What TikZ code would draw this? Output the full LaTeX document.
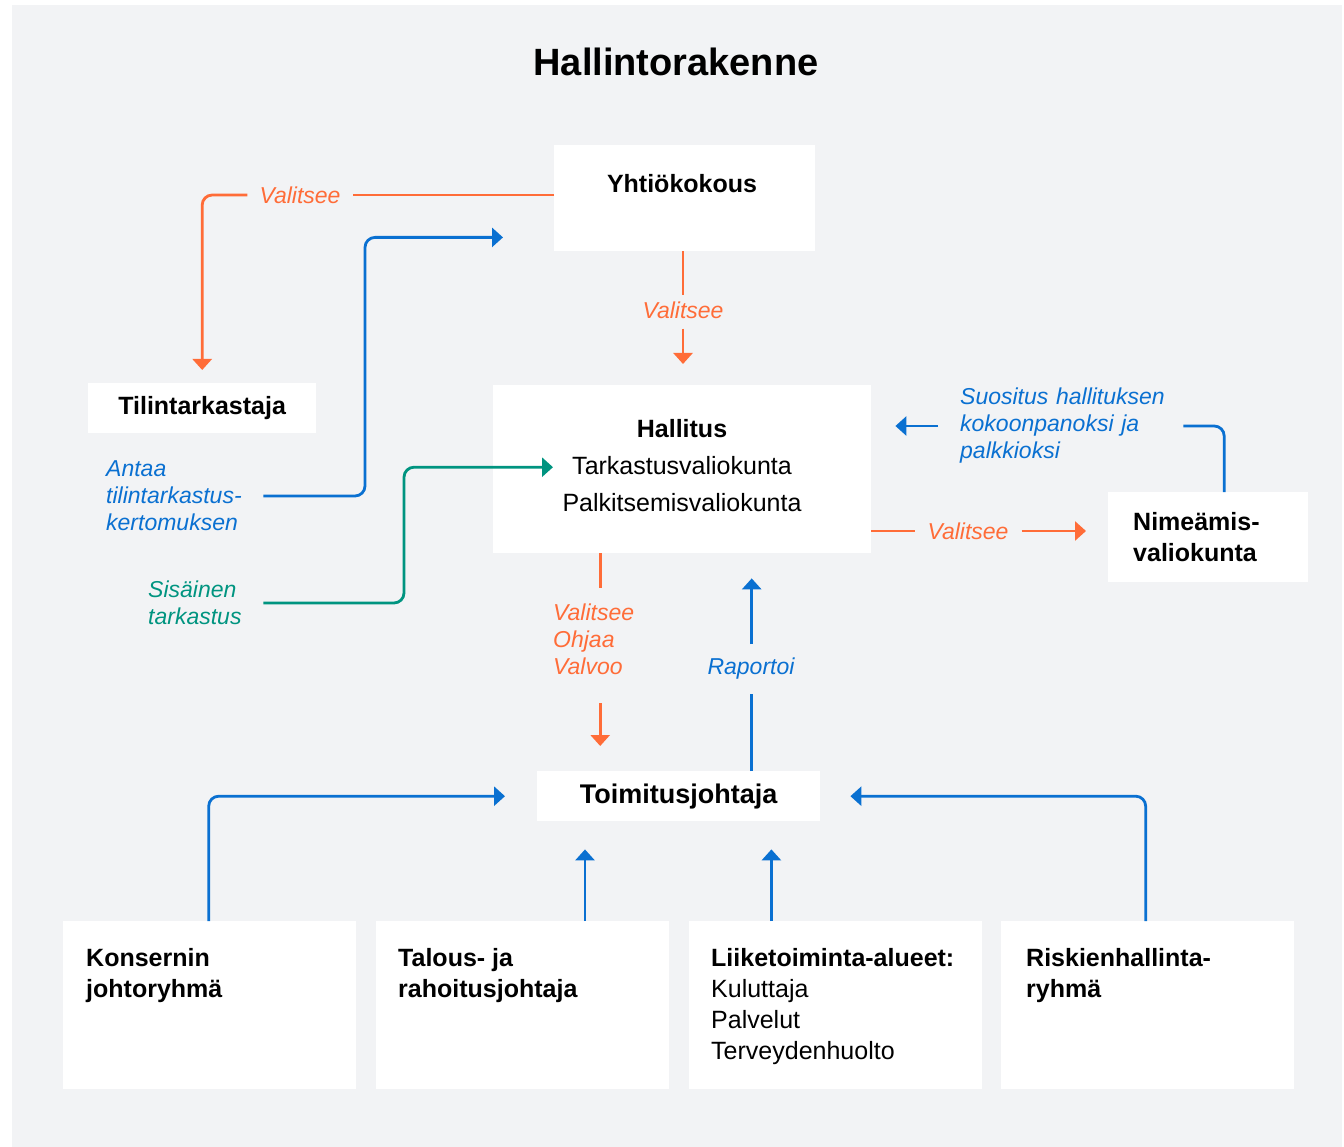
\documentclass[tikz,border=0pt]{standalone}
\usepackage{fontspec}
\setmainfont{Liberation Sans}
\usetikzlibrary{arrows.meta,calc}

\definecolor{pagegray}{RGB}{242,243,245}
\definecolor{orangeln}{RGB}{255,108,56}
\definecolor{blueln}{RGB}{10,112,209}
\definecolor{tealln}{RGB}{0,148,128}

\tikzset{
  box/.style={fill=white, inner sep=0pt, align=center,
    font=\fontsize{25}{31}\selectfont},
  boxtxt/.style={inner sep=0pt, align=left, font=\fontsize{25}{31}\selectfont},
  lab/.style={inner sep=0pt, align=left, font=\fontsize{23}{27}\selectfont\itshape},
  link/.style={line width=2.8pt, rounded corners=10pt},
  tip/.style={-{Triangle[length=11pt,width=19pt]}},
}

\begin{document}
\begin{tikzpicture}[x=1pt,y=-1pt]
  \useasboundingbox (0,0) rectangle (1344,1147);
  \fill[pagegray] (12,5) rectangle (1342,1147);

  \node[font=\fontsize{38}{44}\selectfont\bfseries] (title) at (676,62) {Hallintorakenne};

  % top part
  \node[box, minimum width=261pt, minimum height=106pt, anchor=north west] (yhtio) at (554,145) {};
  \node[boxtxt] (yhtioT) at (682,184) {\textbf{Yhtiökokous}};
  \node[box, minimum width=228pt, minimum height=50pt, anchor=north west] (tilin) at (88,383) {\textbf{Tilintarkastaja}};
  \node[box, minimum width=378pt, minimum height=168pt, anchor=north west,
    font=\fontsize{25}{37}\selectfont] (hall) at (493,385) {};
  \node[box, fill=none, font=\fontsize{25}{37}\selectfont] (hallT) at (682,466)
    {\textbf{Hallitus}\\Tarkastusvaliokunta\\Palkitsemisvaliokunta};
  \node[box, minimum width=200pt, minimum height=90pt, anchor=north west,
    text width=150pt, align=left, inner xsep=25pt] (nime) at (1108,492)
    {\textbf{Nimeämis-}\\\textbf{valiokunta}};
  \node[box, minimum width=283pt, minimum height=50pt, anchor=north west,
    font=\fontsize{27}{31}\selectfont] (toim) at (537,771) {\textbf{Toimitusjohtaja}};

  % bottom row
  \node[box, minimum width=293pt, minimum height=168pt, anchor=north west] (kons) at (63,921) {};
  \node[box, minimum width=293pt, minimum height=168pt, anchor=north west] (tal) at (376,921) {};
  \node[box, minimum width=293pt, minimum height=168pt, anchor=north west] (liike) at (689,921) {};
  \node[box, minimum width=293pt, minimum height=168pt, anchor=north west] (risk) at (1001,921) {};
  \node[boxtxt, anchor=north west] (konsT) at ($(kons.north west)+(23,27)$)
    {\textbf{Konsernin}\\\textbf{johtoryhmä}};
  \node[boxtxt, anchor=north west] (talT) at ($(tal.north west)+(22,27)$)
    {\textbf{Talous- ja}\\\textbf{rahoitusjohtaja}};
  \node[boxtxt, anchor=north west] (liikeT) at ($(liike.north west)+(22,27)$)
    {\textbf{Liiketoiminta-alueet:}\\Kuluttaja\\Palvelut\\Terveydenhuolto};
  \node[boxtxt, anchor=north west] (riskT) at ($(risk.north west)+(25,27)$)
    {\textbf{Riskienhallinta-}\\\textbf{ryhmä}};

  % labels
  \node[lab, text=orangeln, inner xsep=12pt] (valA) at (300,195) {Valitsee};
  \node[lab, text=blueln, anchor=west, text width=150pt] (antaa) at (106,496)
    {Antaa\\tilintarkastus-\\kertomuksen};
  \node[lab, text=orangeln] (valB) at (683,310) {Valitsee};
  \node[lab, text=tealln, anchor=west, text width=100pt] (sis) at (148,603)
    {Sisäinen\\tarkastus};
  \node[lab, text=blueln, anchor=west, text width=215pt] (suos) at (960,426)
    {Suositus hallituksen\\kokoonpanoksi ja\\palkkioksi};
  \node[lab, text=orangeln] (valC) at (968,531) {Valitsee};
  \node[lab, text=orangeln, anchor=north west] (ovv) at (553,604)
    {Valitsee\\Ohjaa\\Valvoo};
  \node[lab, text=blueln] (rap) at (751,669) {Raportoi};

  \coordinate (yIn) at ([xshift=-51pt,yshift=14pt]yhtio.south west);
  \coordinate (tIn) at ([xshift=60pt,yshift=2pt]hall.west);
  \coordinate (hOut) at ([xshift=-82pt]hall.south);
  \coordinate (rOut) at ([xshift=73pt]toim.north);
  \coordinate (tA) at ([xshift=48pt]toim.south west);
  \coordinate (tB) at ([xshift=-49pt]toim.south east);

  % orange
  \draw[link, orangeln] (yhtio.west |- valA) -- (valA.east);
  \draw[link, orangeln, tip, shorten >=13pt] (valA.west) -| (tilin.north);
  \draw[link, orangeln, shorten >=6pt] (valB |- yhtio.south) -- (valB.north);
  \draw[link, orangeln, tip, shorten <=10pt, shorten >=21pt] (valB.south) -- (valB |- hall.north);
  \draw[link, orangeln, shorten >=12pt] (hall.east |- valC) -- (valC.west);
  \draw[link, orangeln, tip, shorten <=13pt, shorten >=22pt] (valC.east) -- (nime.west |- valC.east);
  \draw[link, orangeln, shorten >=16pt] (hOut) -- (hOut |- ovv.north);
  \draw[link, orangeln, tip, shorten <=28pt, shorten >=25pt] (hOut |- ovv.south) -- (hOut |- toim.north);

  % blue and teal
  \draw[link, blueln, tip, shorten <=7pt] (antaa.east) -| ([xshift=-138pt]yIn) -- (yIn);
  \draw[link, tealln, tip, shorten <=15pt] (sis.east) -| ([xshift=-149pt]tIn) -- (tIn);
  \draw[link, blueln, shorten >=8pt] ([xshift=16pt]nime.north) |- (suos.east);
  \draw[link, blueln, tip, shorten <=22pt, shorten >=24pt] (suos.west) -- (hall.east |- suos.west);
  \draw[link, blueln, shorten >=14pt] (rOut) -- (rOut |- rap.south);
  \draw[link, blueln, tip, shorten <=14pt, shorten >=25pt] (rOut |- rap.north) -- (rOut |- hall.south);
  \draw[link, blueln, tip, shorten >=32pt] ([xshift=-1pt]kons.north) |- (toim.west);
  \draw[link, blueln, tip, shorten >=30pt] ([xshift=-2pt]risk.north) |- (toim.east);
  \draw[link, blueln, tip, shorten >=28pt] (tal.north -| tA) -- (tA);
  \draw[link, blueln, tip, shorten >=28pt] (liike.north -| tB) -- (tB);
\end{tikzpicture}
\end{document}
